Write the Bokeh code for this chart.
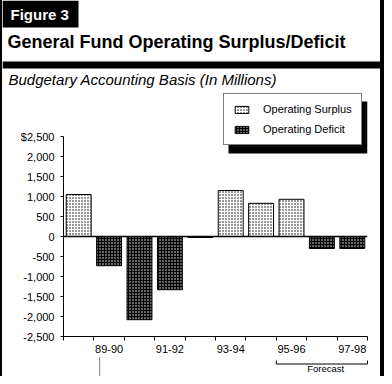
from bokeh.plotting import figure
from bokeh.layouts import row, column
from bokeh.models import (ColumnDataSource, FixedTicker, Legend, LegendItem,
                          BoxAnnotation, Span, Range1d, Spacer)
from bokeh.core.properties import value
from bokeh.embed import file_html
from bokeh.resources import INLINE

# ---- data ----
years = ["88-89", "89-90", "90-91", "91-92", "92-93",
         "93-94", "94-95", "95-96", "96-97", "97-98"]
values = [1050, -730, -2080, -1330, -25, 1150, 830, 930, -300, -300]
series_names = ["Operating Surplus", "Operating Deficit"]
y_ticks = [2500, 2000, 1500, 1000, 500, 0, -500, -1000, -1500, -2000, -2500]
y_tick_labels = ["$2,500", "2,000", "1,500", "1,000", "500", "0",
                 "-500", "-1,000", "-1,500", "-2,000", "-2,500"]
x_label_years = ["89-90", "91-92", "93-94", "95-96", "97-98"]
forecast_years = ["95-96", "96-97", "97-98"]
title_tag = "Figure 3"
title_text = "General Fund Operating Surplus/Deficit"
subtitle_text = "Budgetary Accounting Basis (In Millions)"
forecast_text = "Forecast"

FONT = "Liberation Sans"
TOTAL_W, TOTAL_H = 384, 376
LB, RB = 2, 4                 # outer black border widths
IW = TOTAL_W - LB - RB        # inner width
HEAD_H, CHART_H, FOOT_H = 88, 268, 20
FRAME_L, FRAME_R = 61, 13     # chart frame margins (inner px)
FRAME_B = 20                  # space for x labels


def no_align(fig):
    if "frame_align" in fig.properties():
        fig.frame_align = False


# ---------------- header ----------------
head = figure(width=IW, height=HEAD_H, output_backend="svg", toolbar_location=None,
              x_range=Range1d(0, IW), y_range=Range1d(HEAD_H, 0),
              x_axis_type=None, y_axis_type=None, min_border=0)
no_align(head)
head.outline_line_color = None
head.xgrid.visible = False
head.ygrid.visible = False
head.quad(left=[0], right=[76], top=[0], bottom=[27], fill_color="black", line_color=None)
head.quad(left=[0], right=[IW], top=[61], bottom=[68], fill_color="black", line_color=None)
head.text(x=[8], y=[13.5], text=[title_tag], text_color="white",
          text_font=value(FONT), text_font_style=value("bold"),
          text_font_size=value("15px"), text_baseline="middle", text_line_height=1.0)
head.text(x=[5], y=[41.5], text=[title_text], text_color="black",
          text_font=value(FONT), text_font_style=value("bold"),
          text_font_size=value("18px"), text_baseline="middle", text_line_height=1.0)
head.text(x=[6], y=[78.5], text=[subtitle_text], text_color="black",
          text_font=value(FONT), text_font_style=value("italic"),
          text_font_size=value("15px"), text_baseline="middle", text_line_height=1.0)

# ---------------- chart ----------------
# each category spans 2 x-units; centre = 2*i + 1
xc = [2 * i + 1 for i in range(len(years))]
pos = {y: c for y, c in zip(years, xc)}
n_units = 2 * len(years)

sur = ColumnDataSource(dict(x=[c for c, v in zip(xc, values) if v >= 0],
                            top=[v for v in values if v >= 0]))
defi = ColumnDataSource(dict(x=[c for c, v in zip(xc, values) if v < 0],
                             top=[v for v in values if v < 0]))

frame_h = CHART_H - FRAME_B
px_per_unit_y = 200 / 5000          # 20 px per 500
y_top = -2500 + frame_h / px_per_unit_y

p = figure(width=IW, height=CHART_H, output_backend="svg", toolbar_location=None,
           x_range=Range1d(0, n_units), y_range=Range1d(-2500, y_top),
           min_border_left=FRAME_L, min_border_right=FRAME_R,
           min_border_top=0, min_border_bottom=FRAME_B)
no_align(p)
p.outline_line_color = None
p.xgrid.visible = False
p.ygrid.visible = False

r1 = p.vbar(x="x", top="top", bottom=0, width=1.64, source=sur,
            fill_color="white", hatch_pattern="dot", hatch_color="black",
            hatch_scale=3, hatch_weight=1, line_color="black", line_width=1)
r2 = p.vbar(x="x", top="top", bottom=0, width=1.64, source=defi,
            fill_color="black", hatch_pattern="dot", hatch_color="white",
            hatch_scale=3, hatch_weight=1, line_color="black", line_width=1)

p.add_layout(Span(location=0, dimension="width", line_color="black", line_width=1.5))

xa = p.xaxis[0]
xa.ticker = FixedTicker(ticks=[pos[y] for y in x_label_years],
                        minor_ticks=list(range(0, n_units + 1, 2)))
xa.major_label_overrides = {pos[y]: y for y in x_label_years}
xa.major_tick_out = 0
xa.major_tick_in = 0
xa.minor_tick_out = 4
xa.minor_tick_in = 0
xa.minor_tick_line_color = "black"
xa.axis_line_color = "black"
xa.major_label_standoff = 4
xa.major_label_text_font = FONT
xa.major_label_text_font_size = "11px"
xa.major_label_text_color = "black"

ya = p.yaxis[0]
ya.ticker = FixedTicker(ticks=y_ticks, minor_ticks=[])
ya.major_label_overrides = {t: l for t, l in zip(y_ticks, y_tick_labels)}
ya.bounds = (min(y_ticks), max(y_ticks))
ya.major_tick_out = 3
ya.major_tick_in = 0
ya.major_tick_line_color = "black"
ya.axis_line_color = "black"
ya.major_label_standoff = 6
ya.major_label_text_font = FONT
ya.major_label_text_font_size = "11px"
ya.major_label_text_color = "black"

# legend (position relative to the chart frame, in px) with a drop shadow
LEG_X, LEG_Y = 160, 191
p.add_layout(BoxAnnotation(left=LEG_X + 5, right=LEG_X + 144, top=LEG_Y + 44,
                           bottom=LEG_Y - 8, left_units="screen", right_units="screen",
                           top_units="screen", bottom_units="screen",
                           fill_color="black", fill_alpha=1, line_color=None))
legend = Legend(items=[LegendItem(label=series_names[0], renderers=[r1]),
                       LegendItem(label=series_names[1], renderers=[r2])],
                location=(LEG_X, LEG_Y), margin=0, padding=9, spacing=8,
                glyph_width=17, glyph_height=9, label_standoff=13,
                label_height=12, label_text_font=FONT,
                label_text_font_size="11px", label_text_color="black",
                border_line_color="black", border_line_width=1,
                background_fill_color="white", background_fill_alpha=1)
p.add_layout(legend)

# ---------------- footer (bracket, marker) ----------------
px_per_unit_x = (IW - FRAME_L - FRAME_R) / n_units
foot = figure(width=IW, height=FOOT_H, output_backend="svg", toolbar_location=None,
              x_range=Range1d(-FRAME_L / px_per_unit_x, (IW - FRAME_L) / px_per_unit_x),
              y_range=Range1d(FOOT_H, 0), x_axis_type=None, y_axis_type=None,
              min_border=0)
no_align(foot)
foot.outline_line_color = None
foot.xgrid.visible = False
foot.ygrid.visible = False

xm = pos["89-90"] - 0.62
foot.segment(x0=[xm], y0=[1], x1=[xm], y1=[FOOT_H], line_color="black",
             line_width=1, line_dash="1 1")
fx0 = pos[forecast_years[0]] - 1
fx1 = pos[forecast_years[-1]] + 1
foot.line(x=[fx0, fx0, fx1, fx1], y=[4, 7.5, 7.5, 4], line_color="black", line_width=1)
foot.text(x=[(fx0 + fx1) / 2 + 0.25], y=[12], text=[forecast_text],
          text_align="center", text_baseline="middle", text_line_height=1.0,
          text_font=value(FONT), text_font_size=value("9.5px"), text_color="black")

left_bar = Spacer(width=LB, height=TOTAL_H, styles={"background-color": "black"})
right_bar = Spacer(width=RB, height=TOTAL_H, styles={"background-color": "black"})

layout = row(left_bar, column(head, p, foot, spacing=0), right_bar, spacing=0)

open("out.html", "w").write(file_html(layout, INLINE))
